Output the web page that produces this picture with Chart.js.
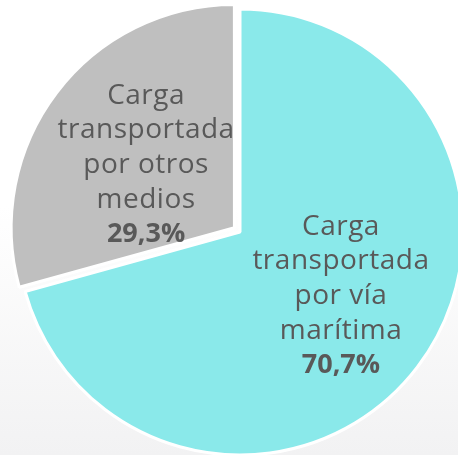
<!DOCTYPE html>
<html>
<head>
<meta charset="utf-8">
<script src="https://cdn.jsdelivr.net/npm/chart.js@4/dist/chart.umd.min.js"></script>
<style>
html,body{margin:0;padding:0;width:458px;height:455px;overflow:hidden;
background:linear-gradient(to bottom,#ffffff 0%,#ffffff 45%,#f2f2f3 100%);}
#wrap{position:absolute;left:0;top:0;width:458px;height:455px;}
</style>
</head>
<body>
<div id="wrap"><canvas id="c" width="458" height="455"></canvas></div>
<script>
const categories = [
  ["Carga", "transportada", "por vía", "marítima"],
  ["Carga", "transportada", "por otros", "medios"]
];
const values = [70.7, 29.3];
const colors = ["#8ae9ea", "#bfbfbf"];

const labelPlugin = {
  id: 'sliceLabels',
  afterDatasetsDraw(chart) {
    const ctx = chart.ctx;
    const meta = chart.getDatasetMeta(0);
    const fracs = [0.536, 0.517];
    const shifts = [-4.9, -1.8]; // degrees
    meta.data.forEach((arc, i) => {
      const p = arc.getProps(['x','y','startAngle','endAngle','outerRadius'], true);
      const mid = (p.startAngle + p.endAngle) / 2 + shifts[i] * Math.PI / 180;
      const r = p.outerRadius * fracs[i];
      const cx = p.x + Math.cos(mid) * r;
      const cy = p.y + Math.sin(mid) * r;
      const lines = categories[i];
      const lh = 34.7;
      const n = lines.length + 1;
      let y0 = cy - (n - 1) * lh / 2;
      ctx.save();
      ctx.fillStyle = '#595959';
      ctx.textAlign = 'center';
      ctx.textBaseline = 'middle';
      ctx.font = '400 28px "Open Sans"';
      ctx.letterSpacing = '0.5px';
      lines.forEach((t, k) => ctx.fillText(t, cx, y0 + k * lh));
      ctx.font = '700 27px "Open Sans"';
      ctx.letterSpacing = '0px';
      const pct = values[i].toFixed(1).replace('.', ',') + '%';
      ctx.fillText(pct, cx, y0 + lines.length * lh);
      ctx.restore();
    });
  }
};

new Chart(document.getElementById('c'), {
  type: 'pie',
  data: {
    labels: categories.map(l => l.join(' ')),
    datasets: [{
      data: values,
      backgroundColor: colors,
      borderColor: '#ffffff',
      borderWidth: 3,
      offset: [0, 28]
    }]
  },
  options: {
    responsive: false,
    animation: false,
    radius: 223,
    layout: { padding: { left: 22, top: 9 } },
    plugins: { legend: { display: false }, tooltip: { enabled: false } }
  },
  plugins: [labelPlugin]
});
</script>
</body>
</html>
